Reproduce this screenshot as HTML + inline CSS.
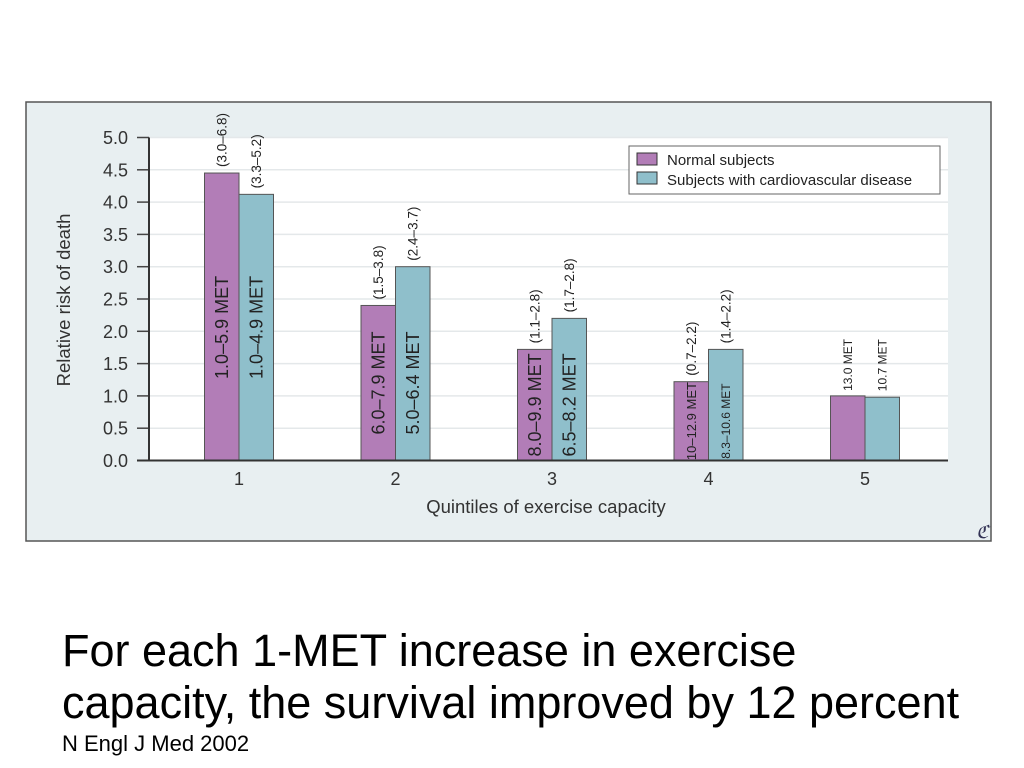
<!DOCTYPE html>
<html><head><meta charset="utf-8"><style>
body{margin:0;background:#fff;width:1024px;height:768px;overflow:hidden;font-family:"Liberation Sans",sans-serif}
.cap{position:absolute;left:62px;color:#000}
</style></head><body>
<svg width="1024" height="768" style="position:absolute;left:0;top:0">
<rect x="26" y="102" width="965" height="439" fill="#e8eff1" stroke="#555" stroke-width="1.5"/>
<g id="g"></g>
</svg>
<div class="cap" style="top:625px;font-size:45px;line-height:52px">For each 1-MET increase in exercise<br>capacity, the survival improved by 12 percent</div>
<div class="cap" style="top:731px;font-size:22px">N Engl J Med 2002</div>
<script>
const categories=["1","2","3","4","5"];
const normal=[4.45,2.4,1.72,1.22,1.0];
const cvd=[4.12,3.0,2.2,1.72,0.98];
const normalMet=["1.0–5.9 MET","6.0–7.9 MET","8.0–9.9 MET","10–12.9 MET","13.0 MET"];
const cvdMet=["1.0–4.9 MET","5.0–6.4 MET","6.5–8.2 MET","8.3–10.6 MET","10.7 MET"];
const normalCI=["(3.0–6.8)","(1.5–3.8)","(1.1–2.8)","(0.7–2.2)",""];
const cvdCI=["(3.3–5.2)","(2.4–3.7)","(1.7–2.8)","(1.4–2.2)",""];
const yTicks=["0.0","0.5","1.0","1.5","2.0","2.5","3.0","3.5","4.0","4.5","5.0"];
const NS="http://www.w3.org/2000/svg";
const g=document.getElementById('g');
const y0=460.5,pxU=64.6;
const y=v=>y0-v*pxU;
const x=i=>239+156.5*i;
const bw=34.5;
function mk(t,a,txt){const e=document.createElementNS(NS,t);for(const k in a)e.setAttribute(k,a[k]);if(txt!=null)e.textContent=txt;g.appendChild(e);return e;}
let e=mk('rect',{x:149,y:y(5),width:799,height:y0-y(5),fill:'#fff'});


yTicks.forEach((t,i)=>{const v=parseFloat(t);
 if(v>0){let l=mk('line',{x1:149,x2:948,y1:y(v),y2:y(v),stroke:'#e4e8ea','stroke-width':1.5});}
 let k=mk('line',{x1:137,x2:149,y1:y(v),y2:y(v),stroke:'#444','stroke-width':1.5});
 let tx=mk('text',{x:128,y:y(v)+6.5,'text-anchor':'end','font-size':18,fill:'#333'},t);
});
function vt(cx,yy,txt,fs,name,anchor){let t=mk('text',{x:0,y:0,transform:`translate(${cx+fs*0.36},${yy}) rotate(-90)`,'font-size':fs,fill:'#222','text-anchor':anchor||'start'},txt);}
categories.forEach((c,i)=>{
 const cx=x(i);
 let b=mk('rect',{x:cx-bw,y:y(normal[i]),width:bw,height:y0-y(normal[i]),fill:'#b27db7',stroke:'#555','stroke-width':1});
 
 let b2=mk('rect',{x:cx,y:y(cvd[i]),width:bw,height:y0-y(cvd[i]),fill:'#8fbfcb',stroke:'#555','stroke-width':1});
 
 if(i<4){
  const mid=(y(Math.min(normal[i],cvd[i]))+y0)/2;
  vt(cx-bw/2,mid,normalMet[i],i==3?13:18,'met-label','middle');
  vt(cx+bw/2,mid,cvdMet[i],i==3?12:18,'met-label','middle');
  vt(cx-bw/2,y(normal[i])-6,normalCI[i],13.5,'ci-label');vt(cx+bw/2,y(cvd[i])-6,cvdCI[i],13.5,'ci-label');}
 else{vt(cx-bw/2,y(normal[i])-5,normalMet[i],12,'met-label');vt(cx+bw/2,y(cvd[i])-6,cvdMet[i],12,'met-label');}
 let xl=mk('text',{x:cx,y:485,'text-anchor':'middle','font-size':18,fill:'#333'},c);
});
e=mk('line',{x1:149,x2:149,y1:y(5),y2:y0,stroke:'#333','stroke-width':2});
e=mk('line',{x1:137,x2:948,y1:y0,y2:y0,stroke:'#333','stroke-width':2});
e=mk('text',{x:0,y:0,transform:'translate(70,300) rotate(-90)','text-anchor':'middle','font-size':18.5,fill:'#333'},'Relative risk of death');
e=mk('text',{x:546,y:513,'text-anchor':'middle','font-size':18.5,fill:'#333'},'Quintiles of exercise capacity');
e=mk('rect',{x:629,y:146,width:311,height:48,fill:'#fff',stroke:'#666','stroke-width':1});
e=mk('rect',{x:637,y:153,width:20,height:12,fill:'#b27db7',stroke:'#333'});
e=mk('rect',{x:637,y:172,width:20,height:12,fill:'#8fbfcb',stroke:'#333'});
e=mk('text',{x:667,y:165,'font-size':15,fill:'#222'},'Normal subjects');
e=mk('text',{x:667,y:185,'font-size':15,fill:'#222'},'Subjects with cardiovascular disease');
e=mk('text',{x:976,y:538,'font-size':18,fill:'#335','font-style':'italic'},'ℭ');
</script>
</body></html>
